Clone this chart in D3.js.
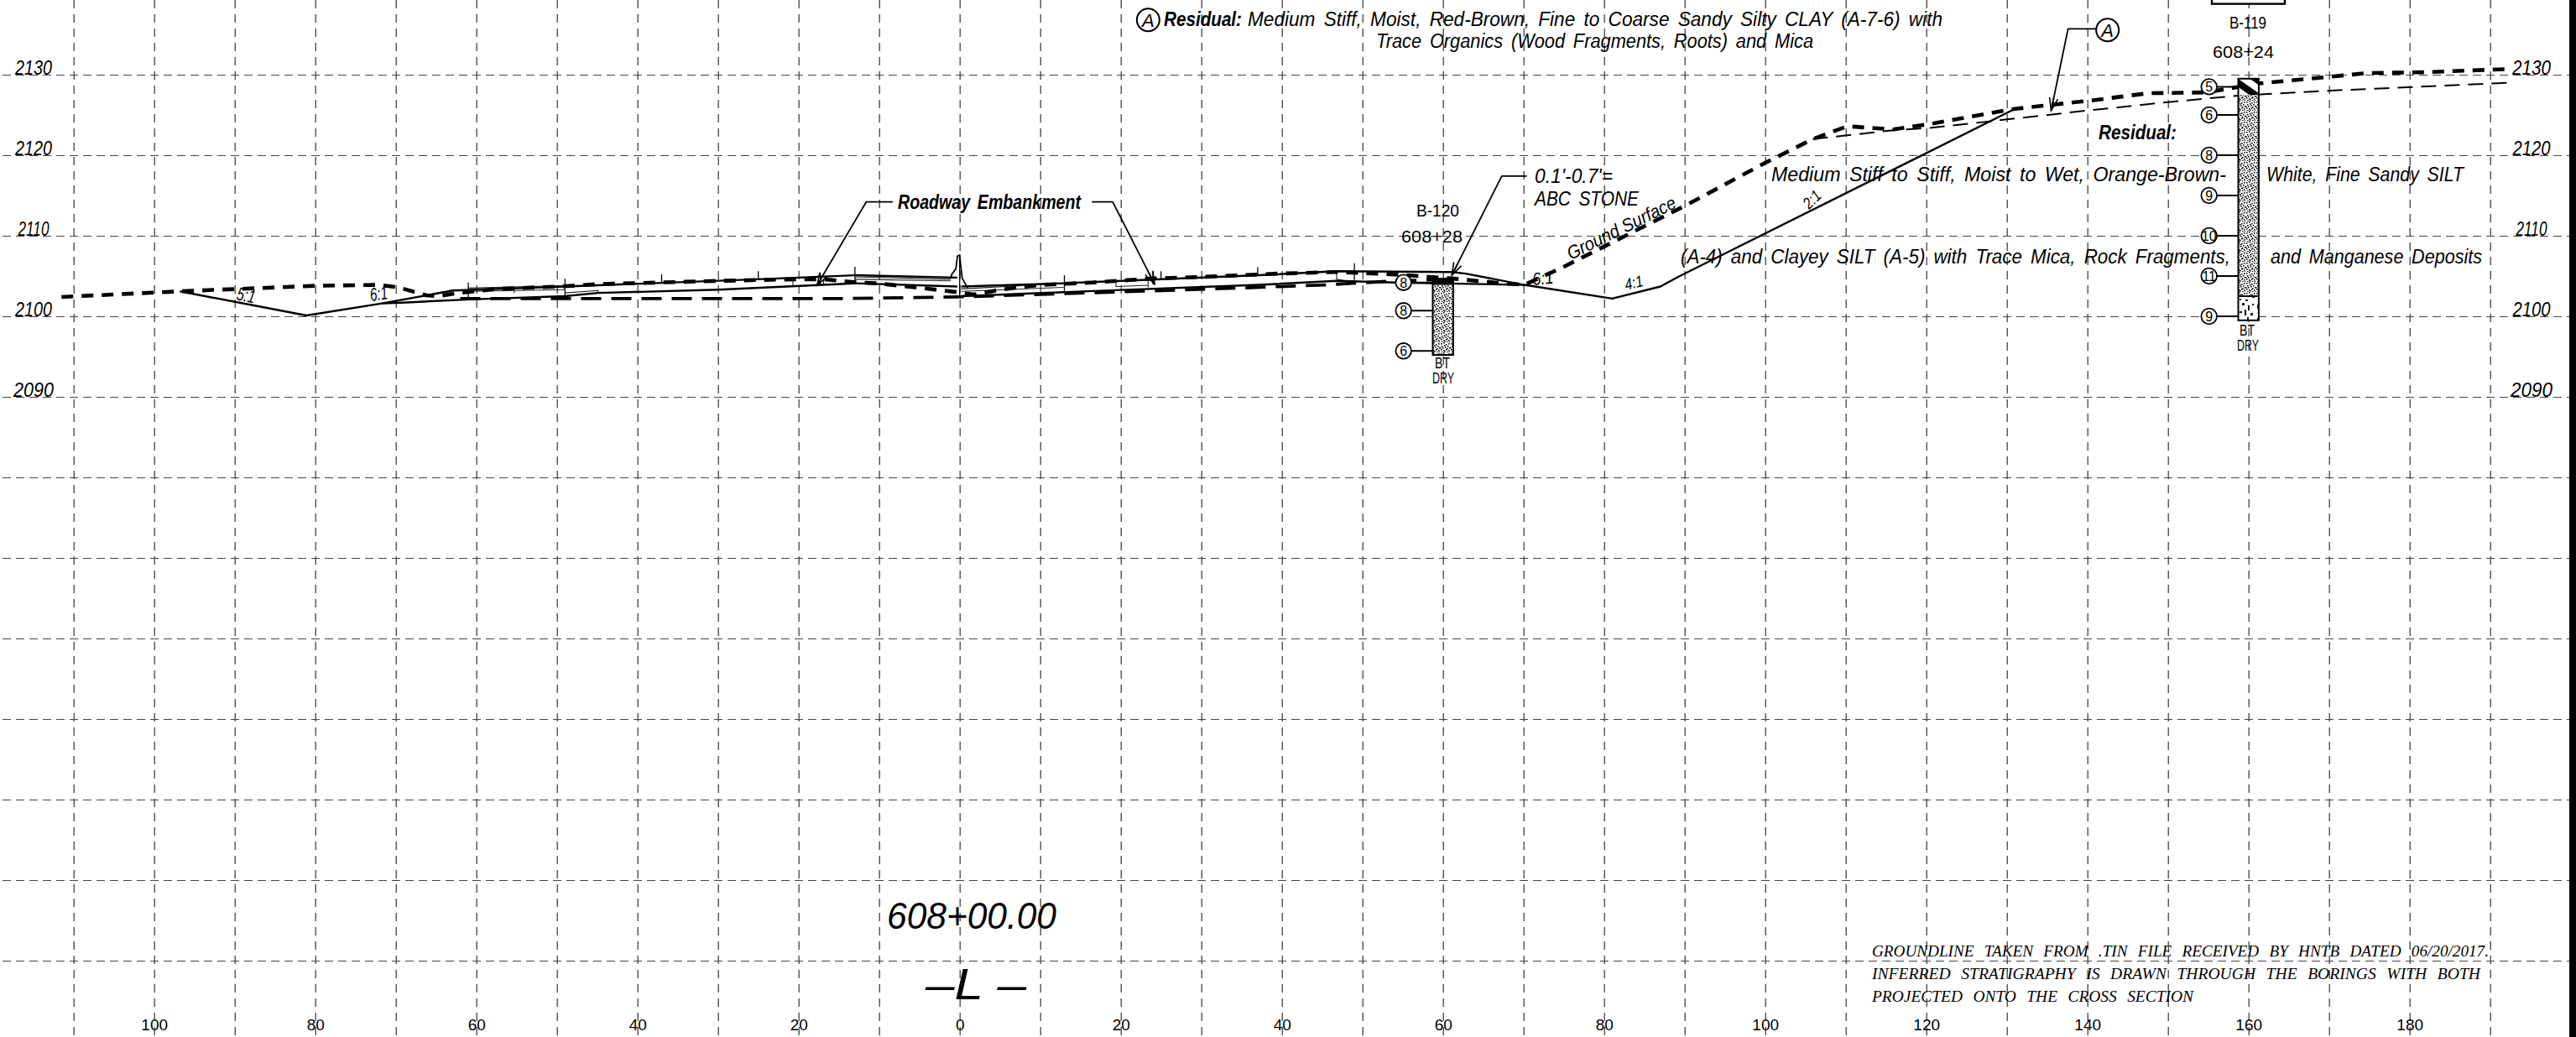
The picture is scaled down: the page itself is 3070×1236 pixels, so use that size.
<!DOCTYPE html>
<html>
<head>
<meta charset="utf-8">
<script src="https://cdn.jsdelivr.net/npm/d3@7"></script>
<style>
  html, body { margin: 0; padding: 0; background: #fff; }
  svg { display: block; }
  text { font-family: "Liberation Sans", Arial, sans-serif; fill: #000; }
</style>
</head>
<body>
<svg id="seccion" width="3070" height="1236"></svg>
<script>
// grid and tick values
const offsetGrid = d3.range(-110, 200, 10);
const offsetLabels = [-100, -80, -60, -40, -20, 0, 20, 40, 60, 80, 100, 120, 140, 160, 180];
const elevGrid = d3.range(2020, 2140, 10);
const elevLabels = [2090, 2100, 2110, 2120, 2130];

// lines as [offset, elevation]
const groundSurface = [[-111.5,2102.4],[-96.8,2103.1],[-79.7,2103.8],[-72.1,2103.9],[-69.7,2103.6],[-66.2,2102.6],[-64.8,2102.5],
  [-62.1,2102.9],[-57.4,2103.4],[-49.7,2103.7],[-44.9,2104],[-37.2,2104.2],[-29.9,2104.4],[-20.5,2104.6],[-17,2104.6],[-12.6,2104.2],
  [-10.3,2104.1],[-5.5,2103.6],[-0.3,2103],[1.7,2102.7],[4.5,2103.2],[7.3,2103.6],[10.1,2103.9],[16.5,2104.2],[24,2104.7],[30.4,2104.9],
  [39.5,2105.3],[46.8,2105.5],[54.1,2105.2],[61.1,2104.7],[66.3,2104.2],[70.1,2103.9],[74.9,2106.1],[90.2,2113.8],[99.9,2119],
  [105.9,2122],[110.2,2123.6],[115.9,2123.2],[120.6,2123.9],[130.5,2125.7],[140.5,2126.8],[147.6,2127.7],[154.8,2127.8],[161.2,2128.9],
  [169.7,2129.7],[174.7,2130.2],[181.8,2130.3],[192.2,2130.7]];
const residualTop = [[105.9,2122],[115.9,2123.1],[120.6,2123.4],[130.5,2124.5],[140.5,2125.6],[150.1,2126.6],[158.7,2127.4],[169.7,2128],[192.2,2129]];
const embankmentBase = [[-62,2102.2],[-15,2102.2],[-0.3,2102.4],[34.4,2103.5],[45.4,2103.9],[54.1,2104.4],[61.1,2104.6]];
const designLeft = [[-96.8,2103.1],[-81.1,2100.1],[-71.7,2101.6],[-62.9,2103.2],[-49,2103.7],[-25.1,2104.6],[-13,2105.1],[-0.3,2104.8]];
const designRight = [[0.2,2103.7],[12.9,2104.1],[37.1,2105.1],[46.8,2105.6],[61.1,2105.5],[62.8,2105.3],[70.1,2103.9],[81,2102.2],[87,2103.7],[89.2,2104.9],[130.9,2125.7]];
const subgradeLeft = [[-71.7,2101.6],[-69.2,2101.7],[-60.8,2102.1],[-49,2102.5],[-44.9,2102.9],[-29.9,2103.3],[-17,2103.9],[-13,2104.1],[-0.3,2103.7]];
const subgradeRight = [[0.2,2102.5],[12.9,2103],[37.1,2103.9],[46.8,2104.4],[54.1,2104.2],[70.1,2103.9]];
const thinLines = [
  [[-13,2104.9],[-1.1,2104.6]], [[-13,2104.6],[-1.1,2104.4]],
  [[0.2,2103.4],[12.9,2104.1]], [[0.2,2103.1],[12.9,2103.6]],
  [[-61,2103.5],[-49,2103.8]], [[-61,2103.1],[-49,2103.3]], [[-49,2102.9],[-44.9,2103.2],[-44.9,2102.9]], [[-55.3,2103.5],[-55.3,2102.9]],
  [[-20.7,2104.6],[-20.7,2103.7],[-17.8,2103.85]], [[-16.9,2104.6],[-16.9,2103.9]],
  [[19.4,2104.4],[19.4,2103.7],[23.4,2103.85],[23.4,2104.6],[23.4,2103.6]],
  [[46.8,2105.6],[46.8,2104.6],[49,2104.2]]
];
const barrier = [[-1.07,2104.7],[-0.99,2105.2],[-0.47,2105.9],[-0.27,2107.5],[0.01,2107.6],[0.14,2106.2],[0.32,2104.7],[1,2103.5]];
// posts: offset, elevation low, elevation high
const postOffset = [-61,-49,-37,-25,-17.3,-13,0,13,24,25,37,49];
const postLow = [2102.05,2102.5,2104.2,2104.65,2103.85,2104.05,2102.5,2103,2103.95,2104.6,2105.1,2104.5];
const postHigh = [2104.2,2104.65,2105.2,2105.6,2105.4,2106.15,2107.5,2105.1,2105.6,2105.6,2106.1,2106.6];

// borings
const b119Offset = 160;
const b119Layers = [2129.5, 2127.5, 2102.5, 2099.5];
const b119Blows = ["5","6","8","9","10","11","9"];
const b119BlowElev = [2128.5,2125,2120,2115,2110,2105,2100];
const b120Offset = 60;
const b120Layers = [2104.6, 2103.9, 2095.2];
const b120Blows = ["8","8","6"];
const b120BlowElev = [2104.2,2100.7,2095.7];

// leaders
const leaderRoadwayL = [[-8.3,2114.2],[-11.6,2114.2],[-17.7,2103.85]];
const leaderRoadwayR = [[16.4,2114.2],[19,2114.2],[24.2,2104]];
const leaderStone = [[70.4,2117.4],[67.3,2117.4],[61.1,2105.1]];
const leaderA = [[141.1,2135.7],[137.6,2135.7],[135.5,2125.55]];
const calloutA = [[23.4,2136.8],[142.5,2135.55]];

const notes = ["GROUNDLINE TAKEN FROM .TIN FILE RECEIVED BY HNTB DATED 06/20/2017.",
  "INFERRED STRATIGRAPHY IS DRAWN THROUGH THE BORINGS WITH BOTH",
  "PROJECTED ONTO THE CROSS SECTION"];

const x = d3.scaleLinear().domain([-110, 190]).range([87.7, 2967.7]);
const y = d3.scaleLinear().domain([2020, 2130]).range([1145, 89]);
const linea = d3.line().x(d => x(d[0])).y(d => y(d[1]));

const svg = d3.select("#seccion");
svg.append("rect").attr("width", 3070).attr("height", 1236).attr("fill", "#fff");

// patterns for the borings
const defs = svg.append("defs");
const stipple = defs.append("pattern").attr("id", "stipple").attr("width", 12).attr("height", 12).attr("patternUnits", "userSpaceOnUse");
stipple.append("rect").attr("width", 12).attr("height", 12).attr("fill", "#fff");
[[1,1],[4,0],[7,2],[10,1],[2,4],[5,3],[9,4],[0,6],[3,6],[6,5],[8,7],[11,6],[1,8],[4,9],[7,8],[10,9],[2,11],[5,10],[8,11],[11,11]].forEach(p => {
  stipple.append("rect").attr("x", p[0]).attr("y", p[1]).attr("width", 1.6).attr("height", 1.6).attr("fill", "#111");
});
const rock = defs.append("pattern").attr("id", "rock").attr("width", 24).attr("height", 30).attr("patternUnits", "userSpaceOnUse");
rock.append("rect").attr("width", 24).attr("height", 30).attr("fill", "#fff");
[[2,3,2,5],[8,1,3,3],[15,4,2,6],[20,2,2,2],[5,11,3,2],[11,9,2,7],[18,13,3,3],[2,19,2,3],[8,21,3,2],[14,18,2,6],[20,22,3,3],[5,26,2,2],[12,27,3,2]].forEach(p => {
  rock.append("rect").attr("x", p[0]).attr("y", p[1]).attr("width", p[2]).attr("height", p[3]).attr("fill", "#111");
});
const hatch = defs.append("pattern").attr("id", "hatch").attr("width", 16).attr("height", 16).attr("patternUnits", "userSpaceOnUse").attr("patternTransform", "rotate(35) translate(0,3)");
hatch.append("rect").attr("width", 16).attr("height", 16).attr("fill", "#fff");
hatch.append("rect").attr("width", 16).attr("height", 8).attr("fill", "#000");
defs.append("marker").attr("id", "punta").attr("viewBox", "-16 -7 18 14").attr("refX", 0).attr("refY", 0)
  .attr("markerWidth", 18).attr("markerHeight", 14).attr("markerUnits", "userSpaceOnUse").attr("orient", "auto")
  .append("path").attr("d", "M-15,-5L0,0L-15,5M-15,0L0,0").attr("fill", "none").attr("stroke", "#000").attr("stroke-width", 1.6);

// grid
const gridV = svg.append("g").call(d3.axisBottom(x).tickValues(offsetGrid).tickSize(1236).tickFormat(""));
gridV.select(".domain").remove();
gridV.selectAll("line").attr("stroke", "#333").attr("stroke-width", 1.2).attr("stroke-dasharray", "10 7");
const gridH = svg.append("g").call(d3.axisRight(y).tickValues(elevGrid).tickSize(3059).tickFormat("")).attr("transform", "translate(3,0)");
gridH.select(".domain").remove();
gridH.selectAll("line").attr("stroke", "#444").attr("stroke-width", 1.2).attr("stroke-dasharray", "10 6");

// tick labels
const ejeX = svg.append("g").attr("transform", "translate(0,1214)")
  .call(d3.axisBottom(x).tickValues(offsetLabels).tickSize(0).tickPadding(0).tickFormat(d => Math.abs(d)));
ejeX.select(".domain").remove();
ejeX.selectAll("text").attr("font-size", 19).attr("font-family", "Liberation Sans").attr("y", 14).attr("dy", 0);

function ejeElev(posX, largos) {
  const g = svg.append("g").attr("transform", `translate(${posX},0)`)
    .call(d3.axisLeft(y).tickValues(elevLabels).tickSize(0).tickPadding(0).tickFormat(d3.format("d")));
  g.select(".domain").remove();
  g.selectAll("text").attr("x", 0).attr("y", -1).attr("dy", 0).attr("text-anchor", "middle")
    .attr("font-size", 23).attr("font-style", "italic").attr("font-family", "Liberation Sans")
    .attr("textLength", d => largos[elevLabels.indexOf(d)]).attr("lengthAdjust", "spacingAndGlyphs");
}
ejeElev(40, [48, 44, 37, 44, 44]);
ejeElev(3017, [50, 45, 37, 45, 46]);

// design lines and details
function trazo(puntos, ancho, dash, color) {
  return svg.append("path").datum(puntos).attr("d", linea).attr("fill", "none")
    .attr("stroke", color || "#000").attr("stroke-width", ancho).attr("stroke-dasharray", dash || null)
    .attr("stroke-linejoin", "round");
}
thinLines.forEach(l => trazo(l, 1.1, null, "#222"));
svg.append("g").selectAll("line").data(postOffset).join("line")
  .attr("x1", d => x(d)).attr("x2", d => x(d))
  .attr("y1", (d, i) => y(postLow[i])).attr("y2", (d, i) => y(postHigh[i]))
  .attr("stroke", "#000").attr("stroke-width", 1.3);
trazo(designLeft, 2.4);
trazo(designRight, 2.4);
trazo(subgradeLeft, 2.4);
trazo(subgradeRight, 2.4);
trazo(barrier, 1.8);
trazo(embankmentBase, 3.8, "24 12");
trazo(residualTop, 2, "18 10");
trazo(groundSurface, 4.6, "14 10");

// leaders
[leaderRoadwayL, leaderRoadwayR, leaderStone, leaderA].forEach(l => trazo(l, 1.8).attr("marker-end", "url(#punta)"));

// borings
function sondeo(offset, capas, blows, blowElev, esB119) {
  const xl = x(offset) - 12.2, ancho = 24.4;
  if (esB119) {
    svg.append("rect").attr("x", xl).attr("y", y(capas[0])).attr("width", ancho).attr("height", y(capas[1]) - y(capas[0])).attr("fill", "url(#hatch)");
    svg.append("rect").attr("x", xl).attr("y", y(capas[1])).attr("width", ancho).attr("height", y(capas[2]) - y(capas[1])).attr("fill", "url(#stipple)");
    svg.append("rect").attr("x", xl).attr("y", y(capas[2])).attr("width", ancho).attr("height", y(capas[3]) - y(capas[2])).attr("fill", "url(#rock)");
    svg.append("line").attr("x1", xl).attr("x2", xl + ancho).attr("y1", y(capas[2])).attr("y2", y(capas[2])).attr("stroke", "#000").attr("stroke-width", 2);
    svg.append("rect").attr("x", xl).attr("y", y(capas[0])).attr("width", ancho).attr("height", y(capas[3]) - y(capas[0])).attr("fill", "none").attr("stroke", "#000").attr("stroke-width", 2);
  } else {
    svg.append("rect").attr("x", xl).attr("y", y(capas[1])).attr("width", ancho).attr("height", y(capas[2]) - y(capas[1])).attr("fill", "url(#stipple)");
    svg.append("rect").attr("x", xl).attr("y", y(capas[0])).attr("width", ancho).attr("height", y(capas[1]) - y(capas[0])).attr("fill", "#000");
    svg.append("rect").attr("x", xl).attr("y", y(capas[0])).attr("width", ancho).attr("height", y(capas[2]) - y(capas[0])).attr("fill", "none").attr("stroke", "#000").attr("stroke-width", 2);
  }
  const g = svg.append("g").selectAll("g").data(blows).join("g")
    .attr("transform", (d, i) => `translate(${x(offset) - 47},${y(blowElev[i])})`);
  g.append("line").attr("x1", 0).attr("x2", 35).attr("stroke", "#000").attr("stroke-width", 2);
  g.append("circle").attr("r", 9.3).attr("fill", "#fff").attr("stroke", "#000").attr("stroke-width", 1.8);
  g.append("text").text(d => d).attr("text-anchor", "middle").attr("y", 6).attr("font-size", 16);
}
sondeo(b119Offset, b119Layers, b119Blows, b119BlowElev, true);
sondeo(b120Offset, b120Layers, b120Blows, b120BlowElev, false);

// text helper, stretched between two pixels like the CAD font
function rotulo(txt, x0, x1, base, size, opts) {
  const o = opts || {};
  const t = svg.append("text").text(txt).attr("x", x0).attr("y", base).attr("font-size", size)
    .attr("textLength", x1 - x0).attr("lengthAdjust", "spacingAndGlyphs")
    .attr("font-style", o.recto ? "normal" : "italic")
    .attr("font-weight", o.bold ? "bold" : "normal")
    .style("word-spacing", (o.aire || 0) + "px");
  if (o.serif) t.style("font-family", "'Liberation Serif', serif");
  if (o.giro) t.attr("transform", `rotate(${o.giro},${x0},${base})`);
  return t;
}

// callouts
svg.append("g").selectAll("g").data(calloutA).join("g")
  .attr("transform", d => `translate(${x(d[0])},${y(d[1])})`)
  .call(g => g.append("circle").attr("r", 13.5).attr("fill", "#fff").attr("stroke", "#000").attr("stroke-width", 2))
  .call(g => g.append("text").text("A").attr("text-anchor", "middle").attr("y", 8).attr("font-size", 22).attr("font-style", "italic"));

rotulo("Residual:", 1387, 1480, 31, 24, { bold: true });
rotulo("Medium Stiff, Moist, Red-Brown, Fine to Coarse Sandy Silty CLAY (A-7-6) with", 1487, 2315, 31, 23, { aire: 4 });
rotulo("Trace Organics (Wood Fragments, Roots) and Mica", 1640, 2161, 57, 23, { aire: 4 });
rotulo("Roadway Embankment", 1070, 1288, 249, 24, { bold: true, aire: 4 });
rotulo("0.1'-0.7'=", 1829, 1922, 218, 23);
rotulo("ABC STONE", 1829, 1953, 245, 23, { aire: 4 });
rotulo("Residual:", 2501, 2594, 166, 24, { bold: true });
rotulo("Medium Stiff to Stiff, Moist to Wet, Orange-Brown-", 2111, 2653, 216, 23, { aire: 4 });
rotulo("White, Fine Sandy SILT", 2701, 2936, 216, 23, { aire: 4 });
rotulo("(A-4) and Clayey SILT (A-5) with Trace Mica, Rock Fragments,", 2003, 2658, 314, 23, { aire: 4 });
rotulo("and Manganese Deposits", 2706, 2958, 314, 23, { aire: 4 });
rotulo("Ground Surface", 1872, 2014, 310, 22, { giro: -26.4 });
rotulo("5:1", 281, 303, 357, 22, { giro: 12 });
rotulo("6:1", 442, 463, 359, 22, { giro: -8 });
rotulo("6:1", 1827, 1852, 340, 21, { giro: -6 });
rotulo("4:1", 1938, 1960, 346, 19, { giro: -14 });
rotulo("2:1", 2156, 2178, 250, 19, { giro: -44 });

// boring titles
rotulo("B-119", 2657, 2701, 34, 21, { recto: true });
rotulo("608+24", 2637, 2710, 69, 21, { recto: true });
rotulo("BT", 2669, 2687, 400, 18, { recto: true });
rotulo("DRY", 2666, 2692, 418, 18, { recto: true });
rotulo("B-120", 1688, 1739, 258, 21, { recto: true });
rotulo("608+28", 1670, 1743, 289, 21, { recto: true });
rotulo("BT", 1710, 1728, 439, 18, { recto: true });
rotulo("DRY", 1707, 1733, 457, 18, { recto: true });
svg.append("rect").attr("x", 2636).attr("y", -10).attr("width", 87).attr("height", 14.6).attr("fill", "#fff").attr("stroke", "#000").attr("stroke-width", 2.4);

// section title
rotulo("608+00.00", 1057, 1259, 1107, 44);
rotulo("\u2013L \u2013", 1103, 1223, 1191, 52);

// general notes
rotulo(notes[0], 2231, 2966, 1140, 18, { serif: true, aire: 7 });
rotulo(notes[1], 2231, 2956, 1167, 18, { serif: true, aire: 7 });
rotulo(notes[2], 2231, 2614, 1194, 18, { serif: true, aire: 7 });

// right sheet border
svg.append("rect").attr("x", 3062).attr("y", 0).attr("width", 8).attr("height", 1236).attr("fill", "#000");
</script>
</body>
</html>
